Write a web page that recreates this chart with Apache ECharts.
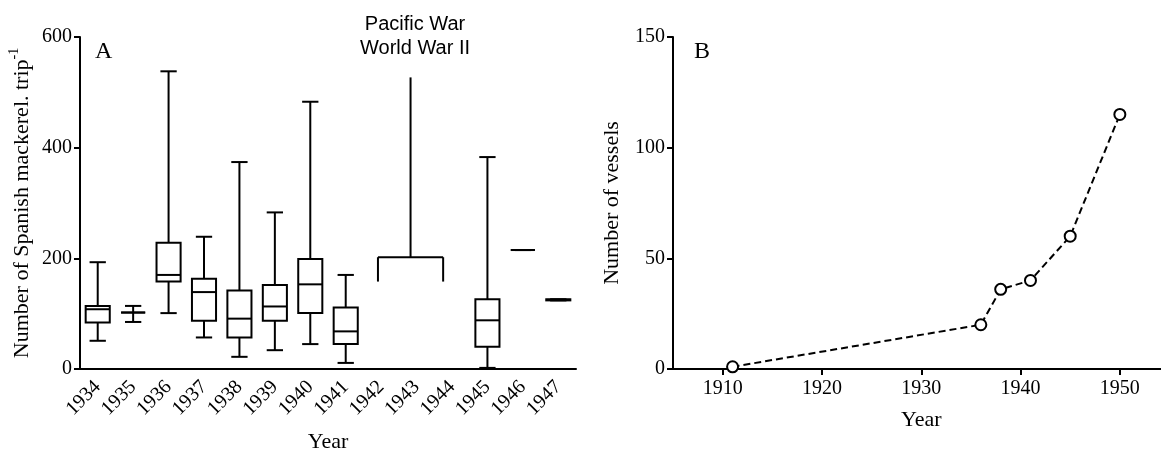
<!DOCTYPE html>
<html>
<head>
<meta charset="utf-8">
<script src="https://cdn.jsdelivr.net/npm/echarts@6/dist/echarts.min.js"></script>
<style>
  html, body { margin: 0; padding: 0; background: #fff; }
  #chart { width: 1161px; height: 453px; }
</style>
</head>
<body>
<div id="chart"></div>
<script>
// ---- Panel A: Spanish mackerel per trip (box & whisker) ----
const years = ['1934','1935','1936','1937','1938','1939','1940','1941','1942','1943','1944','1945','1946','1947'];
const whiskerLow  = [51, 85, 101, 57, 22, 34, 45, 11, null, null, null, 2, 215, 124];
const quartile1   = [84, 102, 158, 87, 57, 87, 101, 45, null, null, null, 40, 215, 124];
const median      = [108, 102, 170, 139, 91, 113, 153, 68, null, null, null, 88, 215, 125];
const quartile3   = [114, 102, 228, 163, 142, 152, 199, 111, null, null, null, 126, 215, 126];
const whiskerHigh = [193, 114, 538, 239, 374, 283, 483, 170, null, null, null, 383, 215, 126];

// Pacific War bracket (1942–1944): [end ticks, bar, top]
const warBracketYears = ['1942', '1943', '1944'];
const warBracketValues = [158, 202, 527];
const warTitle = 'Pacific War\nWorld War II';

// ---- Panel B: number of vessels ----
const vesselYears  = [1911, 1936, 1938, 1941, 1945, 1950];
const vesselCounts = [1, 20, 36, 40, 60, 115];
const yearTicksB   = [1910, 1920, 1930, 1940, 1950];

const serif = 'Liberation Serif';
const sans = 'Liberation Sans';

const boxData = [];
years.forEach(function (y, i) {
  if (whiskerLow[i] !== null) {
    boxData.push([i, whiskerLow[i], quartile1[i], median[i], quartile3[i], whiskerHigh[i]]);
  }
});

const bracketData = [[
  years.indexOf(warBracketYears[0]),
  years.indexOf(warBracketYears[2]),
  warBracketValues[0], warBracketValues[1], warBracketValues[2]
]];

const stroke = { stroke: '#000', lineWidth: 2, fill: null };

function line(x1, y1, x2, y2) {
  return { type: 'line', shape: { x1: x1, y1: y1, x2: x2, y2: y2 }, style: stroke };
}

const chart = echarts.init(document.getElementById('chart'), null, { renderer: 'canvas' });

chart.setOption({
  backgroundColor: '#fff',
  animation: false,
  title: {
    text: warTitle,
    left: 410, top: 7,
    textAlign: 'center',
    textStyle: { fontFamily: sans, fontSize: 20, fontWeight: 'normal', color: '#000', lineHeight: 24 }
  },
  graphic: [
    { type: 'text', left: 95, top: 40, style: { text: 'A', font: '24px "Liberation Serif"', fill: '#000' } },
    { type: 'text', left: 694, top: 40, style: { text: 'B', font: '24px "Liberation Serif"', fill: '#000' } }
  ],
  grid: [
    { left: 80, top: 37, width: 496, height: 332, containLabel: false, outerBoundsMode: 'none' },
    { left: 673, top: 37, width: 496.5, height: 332, containLabel: false, outerBoundsMode: 'none' }
  ],
  xAxis: [
    {
      gridIndex: 0, type: 'category', data: years,
      name: 'Year', nameLocation: 'middle', nameGap: 62,
      nameTextStyle: { fontFamily: serif, fontSize: 22, color: '#000' },
      axisLine: { lineStyle: { color: '#000', width: 2 } },
      axisTick: { alignWithLabel: true, length: 6, lineStyle: { color: '#000', width: 2 } },
      axisLabel: { rotate: 45, margin: 15, fontFamily: serif, fontSize: 20, color: '#000', interval: 0 },
      splitLine: { show: false }
    },
    {
      gridIndex: 1, type: 'value', min: 1905, max: 1955,
      name: 'Year', nameLocation: 'middle', nameGap: 40,
      nameTextStyle: { fontFamily: serif, fontSize: 22, color: '#000' },
      axisLine: { onZero: false, lineStyle: { color: '#000', width: 2 } },
      axisTick: { length: 6, lineStyle: { color: '#000', width: 2 }, customValues: yearTicksB },
      axisLabel: {
        margin: 10, fontFamily: serif, fontSize: 20, color: '#000', customValues: yearTicksB,
        formatter: function (v) { return String(v); }
      },
      splitLine: { show: false }
    }
  ],
  yAxis: [
    {
      gridIndex: 0, type: 'value', min: 0, max: 600, interval: 200,
      name: '{m|Number of Spanish mackerel. trip}{s|-1}',
      nameLocation: 'middle', nameGap: 47, nameRotate: 90,
      nameTextStyle: {
        color: '#000',
        rich: {
          m: { fontFamily: serif, fontSize: 22, color: '#000', lineHeight: 26, verticalAlign: 'bottom' },
          s: { fontFamily: serif, fontSize: 14, color: '#000', lineHeight: 26, verticalAlign: 'top' }
        }
      },
      axisLine: { show: true, lineStyle: { color: '#000', width: 2 } },
      axisTick: { show: true, length: 6, lineStyle: { color: '#000', width: 2 } },
      axisLabel: { margin: 8, fontFamily: serif, fontSize: 20, color: '#000' },
      splitLine: { show: false }
    },
    {
      gridIndex: 1, type: 'value', min: 0, max: 150, interval: 50,
      name: 'Number of vessels', nameLocation: 'middle', nameGap: 50, nameRotate: 90,
      nameTextStyle: { fontFamily: serif, fontSize: 22, color: '#000' },
      axisLine: { show: true, lineStyle: { color: '#000', width: 2 } },
      axisTick: { show: true, length: 6, lineStyle: { color: '#000', width: 2 } },
      axisLabel: { margin: 8, fontFamily: serif, fontSize: 20, color: '#000' },
      splitLine: { show: false }
    }
  ],
  series: [
    {
      type: 'custom', xAxisIndex: 0, yAxisIndex: 0,
      data: boxData,
      encode: { x: 0, y: [1, 2, 3, 4, 5] },
      renderItem: function (params, api) {
        const idx = api.value(0);
        const cx = api.coord([idx, 0])[0];
        const band = api.size([1, 0])[0];
        const hb = band * 0.34, hc = band * 0.23;
        const yMin = api.coord([idx, api.value(1)])[1];
        const yQ1 = api.coord([idx, api.value(2)])[1];
        const yMed = api.coord([idx, api.value(3)])[1];
        const yQ3 = api.coord([idx, api.value(4)])[1];
        const yMax = api.coord([idx, api.value(5)])[1];
        return {
          type: 'group',
          children: [
            line(cx, yMax, cx, yQ3),
            line(cx, yQ1, cx, yMin),
            line(cx - hc, yMax, cx + hc, yMax),
            line(cx - hc, yMin, cx + hc, yMin),
            { type: 'rect', shape: { x: cx - hb, y: yQ3, width: hb * 2, height: yQ1 - yQ3 }, style: stroke },
            line(cx - hb, yMed, cx + hb, yMed)
          ]
        };
      }
    },
    {
      type: 'custom', xAxisIndex: 0, yAxisIndex: 0,
      data: bracketData,
      encode: { x: [0, 1], y: [2, 3, 4] },
      renderItem: function (params, api) {
        const band = api.size([1, 0])[0];
        const xl = api.coord([api.value(0), 0])[0] - band * 0.09;
        const xr = api.coord([api.value(1), 0])[0] - band * 0.25;
        const xm = (xl + xr) / 2;
        const yEnd = api.coord([api.value(0), api.value(2)])[1];
        const yBar = api.coord([api.value(0), api.value(3)])[1];
        const yTop = api.coord([api.value(0), api.value(4)])[1];
        return {
          type: 'group',
          children: [
            line(xl, yEnd, xl, yBar),
            line(xl, yBar, xr, yBar),
            line(xr, yBar, xr, yEnd),
            line(xm, yBar, xm, yTop)
          ]
        };
      }
    },
    {
      type: 'line', xAxisIndex: 1, yAxisIndex: 1,
      data: vesselYears.map(function (y, i) { return [y, vesselCounts[i]]; }),
      symbol: 'circle', symbolSize: 11,
      itemStyle: { color: '#fff', borderColor: '#000', borderWidth: 2 },
      lineStyle: { color: '#000', width: 2, type: [7, 4] },
      z: 3
    }
  ]
});
</script>
</body>
</html>
